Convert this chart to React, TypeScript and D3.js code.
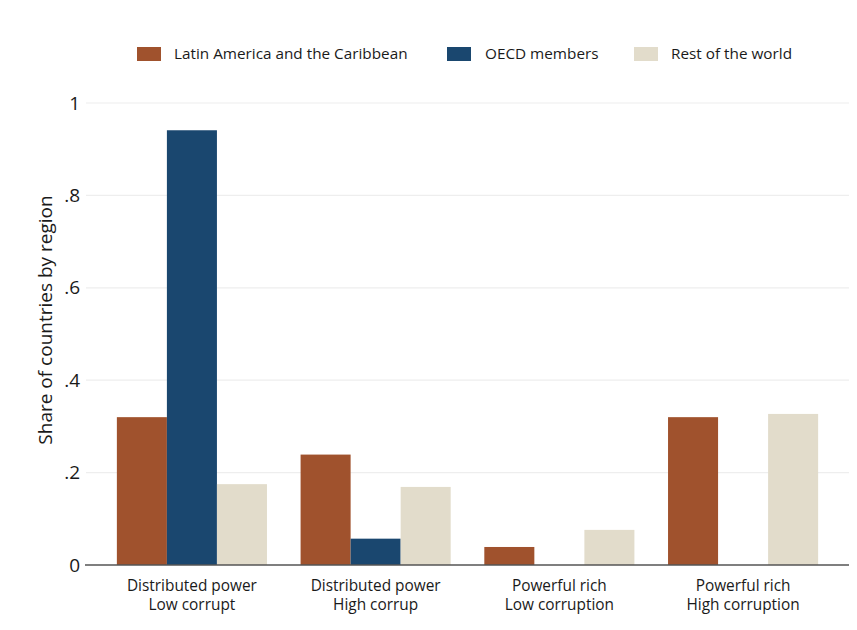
import * as d3 from "d3";

// categories and series
const groups = [
  ["Distributed power", "Low corrupt"],
  ["Distributed power", "High corrup"],
  ["Powerful rich", "Low corruption"],
  ["Powerful rich", "High corruption"],
];
const seriesNames = ["Latin America and the Caribbean", "OECD members", "Rest of the world"];
const latinValues = [0.32, 0.239, 0.039, 0.32];
const oecdValues = [0.941, 0.057, 0, 0];
const restValues = [0.175, 0.169, 0.076, 0.327];
const yTicks = [0, 0.2, 0.4, 0.6, 0.8, 1];
const yTickLabels = ["0", ".2", ".4", ".6", ".8", "1"];

const colors = ["#A0522D", "#1A476F", "#E2DCCB"];
const W = 857;
const H = 630;
const FONT = "'Open Sans', sans-serif";

export default function App() {
  const series = [latinValues, oecdValues, restValues];
  const x0 = d3
    .scaleBand<number>()
    .domain(d3.range(groups.length))
    .range([86, 849])
    .paddingInner(0.183)
    .paddingOuter(0.168);
  const x1 = d3
    .scaleBand<number>()
    .domain(d3.range(seriesNames.length))
    .range([0, x0.bandwidth()]);
  const y = d3.scaleLinear().domain([0, 1]).range([565, 103]);

  // legend layout
  const legendItems = [
    { sq: 137, tx: 174 },
    { sq: 447, tx: 485 },
    { sq: 634, tx: 671 },
  ];

  return (
    <div style={{ position: "absolute", left: 0, top: 0 }}>
      <svg width={W} height={H} style={{ display: "block", background: "#fff" }}>
        {/* gridlines */}
        {yTicks.map((t, i) =>
          t === 0 ? null : (
            <line key={i} x1={86} x2={849} y1={y(t)} y2={y(t)} stroke="#eeeeee" strokeWidth={1.2} />
          )
        )}
        {/* bars */}
        {series.map((vals, s) =>
          vals.map((v, g) =>
            v > 0 ? (
              <rect
                key={`${s}-${g}`}
                x={(x0(g) ?? 0) + (x1(s) ?? 0)}
                y={y(v)}
                width={x1.bandwidth()}
                height={y(0) - y(v)}
                fill={colors[s]}
              />
            ) : null
          )
        )}
        {/* x axis line */}
        <line x1={85} x2={849} y1={y(0)} y2={y(0)} stroke="#555" strokeWidth={1.3} />
        {/* y tick labels */}
        {yTicks.map((t, i) => (
          <text
            key={i}
            x={80}
            y={y(t)}
            dy="0.35em"
            textAnchor="end"
            fontFamily={FONT}
            fontSize={19}
            fill="#1a1a1a"
          >
            {yTickLabels[i]}
          </text>
        ))}
        {/* y axis title */}
        <text
          transform={`translate(52, ${(y(0) + y(1)) / 2 - 14}) rotate(-90)`}
          textAnchor="middle"
          fontFamily={FONT}
          fontSize={19}
          fill="#1a1a1a"
        >
          Share of countries by region
        </text>
        {/* x labels */}
        {groups.map((lines, g) => {
          const cx = (x0(g) ?? 0) + x0.bandwidth() / 2;
          return (
            <text key={g} textAnchor="middle" fontFamily={FONT} fontSize={15.4} fill="#1a1a1a">
              <tspan x={cx} y={591}>
                {lines[0]}
              </tspan>
              <tspan x={cx} y={610}>
                {lines[1]}
              </tspan>
            </text>
          );
        })}
        {/* legend */}
        {seriesNames.map((name, i) => (
          <g key={i}>
            <rect x={legendItems[i].sq} y={47} width={24} height={14} fill={colors[i]} />
            <text
              x={legendItems[i].tx}
              y={54}
              dy="0.35em"
              fontFamily={FONT}
              fontSize={15.3}
              fill="#1a1a1a"
            >
              {name}
            </text>
          </g>
        ))}
      </svg>
    </div>
  );
}
